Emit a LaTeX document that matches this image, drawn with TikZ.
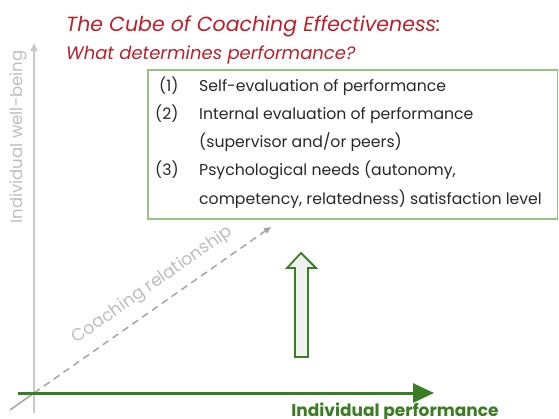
\documentclass[tikz,border=0pt]{standalone}
\usepackage{fontspec}
\setmainfont{Poppins}
\usetikzlibrary{arrows.meta}
\definecolor{titlered}{RGB}{190,30,40}
\definecolor{perfgreen}{RGB}{58,125,34}
\definecolor{boxgreen}{RGB}{150,195,130}
\definecolor{axisgray}{RGB}{200,200,200}
\definecolor{labelgray}{RGB}{190,190,190}
\definecolor{dashgray}{RGB}{165,165,165}
\definecolor{bodytext}{RGB}{40,40,40}
\definecolor{arrowfill}{RGB}{240,240,240}
\tikzset{
  titletext/.style={anchor=base west, inner sep=0pt, text=titlered},
  itemnum/.style={anchor=base west, inner sep=0pt, text=bodytext, font=\fontsize{15.7}{18}\selectfont},
  itemtext/.style={anchor=base west, inner sep=0pt, text=bodytext, font=\fontsize{15.7}{18}\selectfont},
  axislabel/.style={inner sep=0pt, text=labelgray},
}
\begin{document}
\begin{tikzpicture}[x=1pt,y=-1pt]
\useasboundingbox (0,0) rectangle (559,418);

% title
\node[titletext, font=\itshape\fontsize{20.5}{24}\selectfont] (t1) at (66,31) {The Cube of Coaching Effectiveness:};
\node[titletext, font=\itshape\fontsize{18}{21}\selectfont] (t2) at (66,59) {What determines performance?};

% origin and axes
\coordinate (o) at (34,393);
\coordinate (ytop) at (34,43);
\coordinate (ybot) at (34,413);
\coordinate (xleft) at (18,393);
\coordinate (xtip) at (434,393);
\coordinate (dstart) at (10,410);
\coordinate (dtip) at (271,227);

\draw[axisgray, line width=2pt, -{Triangle[length=8pt,width=7pt]}] (ybot) -- (ytop);
\draw[dashgray, line width=1.5pt] (dstart) -- (o);
\draw[dashgray, line width=1.5pt, dash pattern=on 7pt off 5pt, -{Triangle[length=7pt,width=6pt]}] (o) -- (dtip);
\draw[perfgreen, line width=3pt, -{Triangle[length=21pt,width=19pt]}] (xleft) -- (xtip);

% axis labels
\node[axislabel, rotate=90, font=\fontsize{16.5}{19}\selectfont] (ylab) at (18,137) {Individual well-being};
\node[axislabel, rotate=35, font=\fontsize{17.3}{20}\selectfont] (dlab) at (152.5,285.5) {Coaching relationship};
\node[anchor=base, inner sep=0pt, text=perfgreen, font=\bfseries\fontsize{17}{20}\selectfont] (xlab) at (395,416) {Individual performance};

% determinants box
\draw[boxgreen, line width=1.3pt] (148,70) rectangle (557.5,219);
\node[itemnum] (n1) at (159,91) {(1)};
\node[itemtext] (l1) at (199,91) {Self-evaluation of performance};
\node[itemnum] (n2) at (155,119) {(2)};
\node[itemtext] (l2) at (199,119) {Internal evaluation of performance};
\node[itemtext] (l2b) at (199,147) {(supervisor and/or peers)};
\node[itemnum] (n3) at (155,175) {(3)};
\node[itemtext] (l3) at (199,175) {Psychological needs (autonomy,};
\node[itemtext] (l3b) at (199,204) {competency, relatedness) satisfaction level};

% upward block arrow
\draw[perfgreen, line width=1.8pt, fill=arrowfill, line join=miter]
  (295,357) -- (295,268) -- (287,268) -- (301,253) -- (316,268) -- (308,268) -- (308,357) -- cycle;
\end{tikzpicture}
\end{document}
